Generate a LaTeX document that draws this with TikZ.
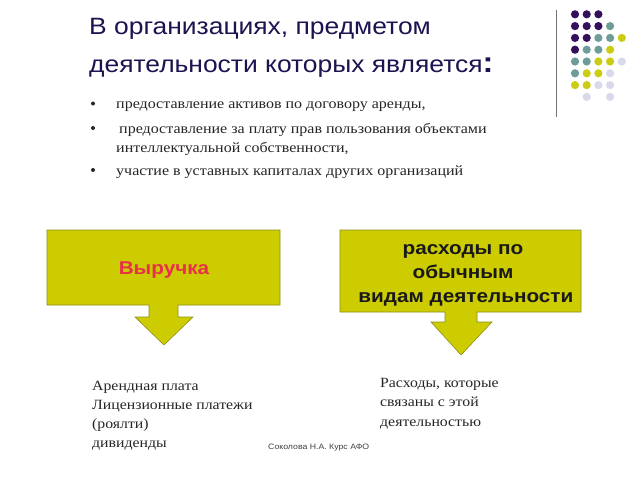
\documentclass[tikz,border=0pt]{standalone}
\usepackage{fontspec}
\setmainfont[FakeStretch=1.12]{Liberation Serif}
\newfontfamily\arial[FakeStretch=1.12]{Liberation Sans}
\definecolor{dpurple}{HTML}{330F5C}
\definecolor{dteal}{HTML}{6E9C98}
\definecolor{dyellow}{HTML}{CCCC14}
\definecolor{dlav}{HTML}{D9D9EC}
\definecolor{titlec}{HTML}{1E1250}
\definecolor{boxfill}{HTML}{CCCC00}
\definecolor{boxline}{HTML}{8F8F1A}
\definecolor{redtxt}{HTML}{E8304A}
\begin{document}
\begin{tikzpicture}[x=1pt,y=-1pt,
  dot/.style={circle,inner sep=0pt,minimum size=8.2pt},
  ttl/.style={anchor=base west,inner sep=0pt,font=\arial\fontsize{23.6}{28}\selectfont,text=titlec},
  bul/.style={anchor=base west,inner sep=0pt,font=\fontsize{14.3}{18}\selectfont,text=black!85},
  bdot/.style={circle,fill=black!85,inner sep=0pt,minimum size=4pt},
  txt/.style={anchor=base west,inner sep=0pt,font=\fontsize{14.1}{18}\selectfont,text=black!85},
  yb/.style={fill=boxfill,draw=boxline,line width=0.6pt},
  boxlbl/.style={inner sep=0pt,align=center,font=\arial\bfseries\fontsize{18.5}{24}\selectfont}]
\useasboundingbox[fill=white] (0,0) rectangle (640,480);
% decorative dots
\foreach \c/\r/\col in {0/0/dpurple,1/0/dpurple,2/0/dpurple,
  0/1/dpurple,1/1/dpurple,2/1/dpurple,3/1/dteal,
  0/2/dpurple,1/2/dpurple,2/2/dteal,3/2/dteal,4/2/dyellow,
  0/3/dpurple,1/3/dteal,2/3/dteal,3/3/dyellow,
  0/4/dteal,1/4/dteal,2/4/dyellow,3/4/dyellow,4/4/dlav,
  0/5/dteal,1/5/dyellow,2/5/dyellow,3/5/dlav,
  0/6/dyellow,1/6/dyellow,2/6/dlav,3/6/dlav,
  1/7/dlav,3/7/dlav}
  \node[dot,fill=\col] (d\c\r) at ({575+11.7*\c},{14.3+11.8*\r}) {};
\coordinate (vt) at (556.7,10);
\coordinate (vb) at (556.7,117);
\draw[black!55,line width=1.1pt] (vt) -- (vb);
% title
\node[ttl] (t1) at (89,34.3) {В организациях, предметом};
\node[ttl] (t2) at (89,72.7) {деятельности которых является{\bfseries\fontsize{29}{29}\selectfont:}};
% bullets
\node[bdot] (b1) at (93,103.5) {};
\node[bdot] (b2) at (93,128) {};
\node[bdot] (b3) at (93,170) {};
\node[bul] (l1) at (116,108.5) {предоставление активов по договору аренды,};
\node[bul] (l2) at (119,133) {предоставление за плату прав пользования объектами};
\node[bul] (l3) at (116,152) {интеллектуальной собственности,};
\node[bul] (l4) at (116,175) {участие в уставных капиталах других организаций};
% left box + arrow
\draw[yb] (47,230) -- (280,230) -- (280,305) -- (178,305) -- (178,317) -- (193,317)
  -- (164,345) -- (135,317) -- (149,317) -- (149,305) -- (47,305) -- cycle;
\node[boxlbl,text=redtxt] (rev) at (164,270) {Выручка};
% right box + arrow
\draw[yb] (340,230) -- (581,230) -- (581,312) -- (477,312) -- (477,322) -- (492,322)
  -- (461,355) -- (431,322) -- (445,322) -- (445,312) -- (340,312) -- cycle;
\node[boxlbl,text=black!90] (exp) at (463,275) {расходы по\\обычным\\\ видам деятельности};
% bottom texts
\node[txt] (r1) at (92,390) {Арендная плата};
\node[txt] (r2) at (92,409) {Лицензионные платежи};
\node[txt] (r3) at (92,428.5) {(роялти)};
\node[txt] (r4) at (92,447.5) {дивиденды};
\node[txt] (e1) at (380,387.5) {Расходы, которые};
\node[txt] (e2) at (380,406.5) {связаны с этой};
\node[txt] (e3) at (380,426) {деятельностью};
\node[anchor=base west,inner sep=0pt,font=\arial\fontsize{7.8}{10}\selectfont,text=black!75] (ft) at (268,449) {Соколова Н.А. Курс АФО};
\end{tikzpicture}
\end{document}
